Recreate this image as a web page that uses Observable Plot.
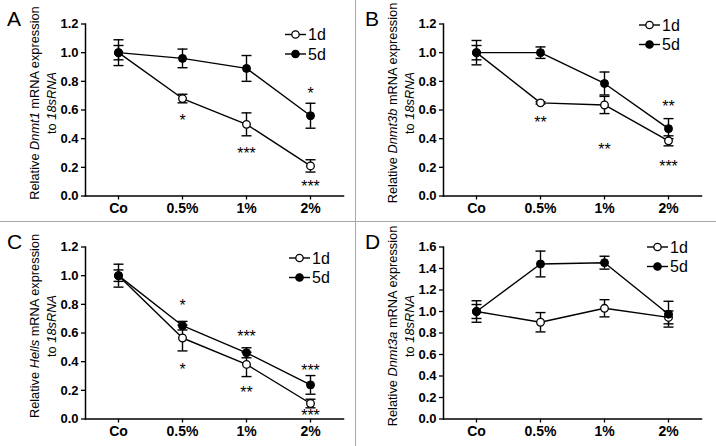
<!DOCTYPE html>
<html><head><meta charset="utf-8">
<script src="https://cdn.jsdelivr.net/npm/d3@7"></script>
<script src="https://cdn.jsdelivr.net/npm/@observablehq/plot@0.6"></script>
<style>
body{margin:0;background:#fff;}
#wrap{position:relative;width:716px;height:446px;overflow:hidden;font-family:Arial,"Liberation Sans",sans-serif;background:#fff;}
.panel{position:absolute;}
.vline{position:absolute;left:355px;top:0;width:1px;height:446px;background:#a8a8a8;}
.hline{position:absolute;left:0;top:221px;width:716px;height:1px;background:#a8a8a8;}
</style></head><body><div id="wrap"><div class="vline"></div><div class="hline"></div></div>
<script>
const doses = ["Co", "0.5%", "1%", "2%"];
const series = ["1d", "5d"];
const yTicks12 = [0, 0.2, 0.4, 0.6, 0.8, 1.0, 1.2];
const yTicks16 = [0, 0.2, 0.4, 0.6, 0.8, 1.0, 1.2, 1.4, 1.6];

// Panel A: Dnmt1
const dnmt1_1d = [1.00, 0.68, 0.50, 0.21];
const dnmt1_1d_err = [0.05, 0.03, 0.08, 0.043];
const dnmt1_5d = [1.00, 0.96, 0.89, 0.56];
const dnmt1_5d_err = [0.09, 0.065, 0.09, 0.087];
const dnmt1_starDose = ["0.5%", "1%", "2%", "2%"];
const dnmt1_starY = [0.55, 0.32, 0.74, 0.09];
const dnmt1_starText = ["*", "***", "*", "***"];

// Panel B: Dnmt3b
const dnmt3b_1d = [1.00, 0.65, 0.635, 0.385];
const dnmt3b_1d_err = [0.05, 0.008, 0.06, 0.035];
const dnmt3b_5d = [1.00, 1.00, 0.785, 0.47];
const dnmt3b_5d_err = [0.085, 0.04, 0.08, 0.07];
const dnmt3b_starDose = ["0.5%", "1%", "2%", "2%"];
const dnmt3b_starY = [0.54, 0.35, 0.65, 0.23];
const dnmt3b_starText = ["**", "**", "**", "***"];

// Panel C: Hells
const hells_1d = [1.00, 0.565, 0.381, 0.108];
const hells_1d_err = [0.04, 0.09, 0.085, 0.03];
const hells_5d = [1.00, 0.651, 0.462, 0.238];
const hells_5d_err = [0.08, 0.03, 0.035, 0.065];
const hells_starDose = ["0.5%", "0.5%", "1%", "1%", "2%", "2%"];
const hells_starY = [0.815, 0.37, 0.60, 0.21, 0.362, 0.05];
const hells_starText = ["*", "*", "***", "**", "***", "***"];

// Panel D: Dnmt3a
const dnmt3a_1d = [1.00, 0.90, 1.03, 0.945];
const dnmt3a_1d_err = [0.065, 0.09, 0.08, 0.06];
const dnmt3a_5d = [1.00, 1.442, 1.454, 0.975];
const dnmt3a_5d_err = [0.10, 0.12, 0.06, 0.12];

const FONT = "Arial, 'Liberation Sans', sans-serif";

const panels = [
  {letter:"A", gene:"Dnmt1", left:0, top:0, max:1.2, ticks:yTicks12,
   vals:[dnmt1_1d, dnmt1_5d], errs:[dnmt1_1d_err, dnmt1_5d_err],
   starDose:dnmt1_starDose, starY:dnmt1_starY, starText:dnmt1_starText, legX:285, legY:34.5},
  {letter:"B", gene:"Dnmt3b", left:358, top:0, max:1.2, ticks:yTicks12,
   vals:[dnmt3b_1d, dnmt3b_5d], errs:[dnmt3b_1d_err, dnmt3b_5d_err],
   starDose:dnmt3b_starDose, starY:dnmt3b_starY, starText:dnmt3b_starText, legX:281, legY:25},
  {letter:"C", gene:"Hells", left:0, top:223, max:1.2, ticks:yTicks12,
   vals:[hells_1d, hells_5d], errs:[hells_1d_err, hells_5d_err],
   starDose:hells_starDose, starY:hells_starY, starText:hells_starText, legX:289, legY:35},
  {letter:"D", gene:"Dnmt3a", left:358, top:223, max:1.6, ticks:yTicks16,
   vals:[dnmt3a_1d, dnmt3a_5d], errs:[dnmt3a_1d_err, dnmt3a_5d_err],
   starDose:[], starY:[], starText:[], legX:289, legY:24}
];

const capSymbol = {draw(ctx, size){ const r = Math.sqrt(size/Math.PI); ctx.moveTo(-r,0); ctx.lineTo(r,0); }};

const wrap = document.getElementById("wrap");

panels.forEach(p => {
  const rows = [];
  series.forEach((s, si) => doses.forEach((d, i) => rows.push({dose:d, series:s, v:p.vals[si][i], e:p.errs[si][i]})));
  const stars = p.starDose.map((d, i) => ({dose:d, y:p.starY[i], t:p.starText[i]}));
  const r1 = rows.filter(r => r.series === "1d");
  const r5 = rows.filter(r => r.series === "5d");
  const plot = Plot.plot({
    width:356, height:221,
    marginLeft:85, marginRight:13, marginTop:23.5, marginBottom:25.5,
    style:{fontFamily:FONT, background:"transparent", overflow:"visible", color:"black"},
    x:{type:"point", domain:doses, padding:0.5, label:null},
    y:{domain:[0, p.max], label:null},
    marks:[
      Plot.axisY({ticks:p.ticks, tickFormat:d3.format(".1f"), tickSize:4, tickPadding:3, fontSize:13, fontWeight:"bold", label:null, strokeWidth:1.3}),
      Plot.axisX({tickSize:4, tickPadding:3, fontSize:14, fontWeight:"bold", label:null, strokeWidth:1.3}),
      Plot.frame({anchor:"left", strokeWidth:1.5}),
      Plot.frame({anchor:"bottom", strokeWidth:1.5}),
      Plot.line(rows, {x:"dose", y:"v", z:"series", stroke:"black", strokeWidth:1.4}),
      Plot.ruleX(rows, {x:"dose", y1:d => d.v - d.e, y2:d => d.v + d.e, stroke:"black", strokeWidth:1.4}),
      Plot.dot(rows, {x:"dose", y:d => d.v - d.e, symbol:capSymbol, r:5, stroke:"black", strokeWidth:1.4}),
      Plot.dot(rows, {x:"dose", y:d => d.v + d.e, symbol:capSymbol, r:5, stroke:"black", strokeWidth:1.4}),
      Plot.dot(r1, {x:"dose", y:"v", r:3.8, fill:"white", stroke:"black", strokeWidth:1.3}),
      Plot.dot(r5, {x:"dose", y:"v", r:4, fill:"black", stroke:"black", strokeWidth:1}),
      Plot.text(stars, {x:"dose", y:"y", text:"t", fontSize:16, dy:4, fill:"black"})
    ]
  });
  const div = document.createElement("div");
  div.className = "panel";
  div.style.left = p.left + "px";
  div.style.top = p.top + "px";
  div.appendChild(plot);
  wrap.appendChild(div);

  const svg = d3.select(plot);
  svg.append("text").attr("x", 7).attr("y", 26).attr("text-anchor", "start").attr("font-size", 21).attr("font-family", FONT).text(p.letter);
  const g1 = svg.append("text").attr("transform", "translate(35,103) rotate(-90)").attr("text-anchor", "middle")
    .attr("dy", "0.35em").attr("font-size", 12.8).attr("font-family", FONT);
  g1.append("tspan").text("Relative ");
  g1.append("tspan").attr("font-style", "italic").text(p.gene);
  g1.append("tspan").text(" mRNA expression");
  const g2 = svg.append("text").attr("transform", "translate(52,103) rotate(-90)").attr("text-anchor", "middle")
    .attr("dy", "0.35em").attr("font-size", 12.8).attr("font-family", FONT);
  g2.append("tspan").text("to ");
  g2.append("tspan").attr("font-style", "italic").text("18sRNA");

  series.forEach((s, i) => {
    const y = p.legY + i * 19.5;
    const lg = svg.append("g");
    lg.append("line").attr("x1", p.legX).attr("x2", p.legX + 21).attr("y1", y).attr("y2", y).attr("stroke", "black").attr("stroke-width", 1.4);
    lg.append("circle").attr("cx", p.legX + 10.5).attr("cy", y).attr("r", 3.7)
      .attr("fill", s === "1d" ? "white" : "black").attr("stroke", "black").attr("stroke-width", 1.3);
    lg.append("text").attr("x", p.legX + 23).attr("y", y).attr("dy", "0.36em").attr("text-anchor", "start")
      .attr("font-size", 16).attr("font-family", FONT).text(s);
  });
});
</script></body></html>
